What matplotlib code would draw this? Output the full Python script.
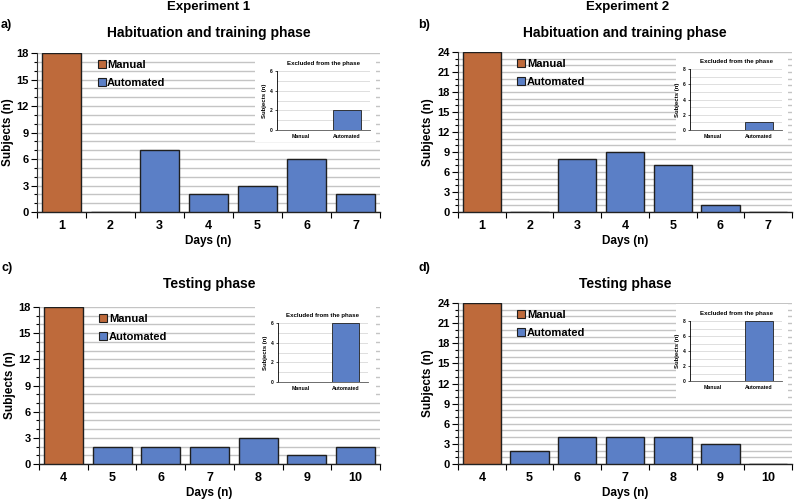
import matplotlib
matplotlib.use("Agg")
import matplotlib.pyplot as plt
from matplotlib.patches import Patch
from matplotlib.ticker import MultipleLocator
import numpy as np

plt.rcParams["font.family"] = ["Liberation Sans", "DejaVu Sans"]
plt.rcParams["font.weight"] = "bold"

W, H = 794, 501

MANUAL = "#BE6A3B"
AUTO = "#5B7FC6"
EDGE = "#1f1f1f"
GRID = "#c4c4c4"

# data
days_hab = ["1", "2", "3", "4", "5", "6", "7"]
days_test = ["4", "5", "6", "7", "8", "9", "10"]
exp1_hab = [18, 0, 7, 2, 3, 6, 2]
exp2_hab = [24, 0, 8, 9, 7, 1, 0]
exp1_test = [18, 2, 2, 2, 3, 1, 2]
exp2_test = [24, 2, 4, 4, 4, 3, 0]
inset_groups = ["Manual", "Automated"]
excl_exp1_hab = [0, 2]
excl_exp2_hab = [0, 1]
excl_exp1_test = [0, 6]
excl_exp2_test = [0, 8]


def px_axes(fig, x0, y0, x1, y1, **kw):
    return fig.add_axes([x0 / W, 1 - y1 / H, (x1 - x0) / W, (y1 - y0) / H], **kw)


def main_panel(fig, box, days, values, ymax, title, letter, letter_xy, title_y):
    ax = px_axes(fig, *box)
    x = np.arange(len(days))
    colors = [MANUAL] + [AUTO] * (len(days) - 1)
    ax.bar(x, values, width=0.8, color=colors, edgecolor=EDGE, linewidth=1.0, zorder=3)
    ax.set_xlim(-0.5, len(days) - 0.5)
    ax.set_ylim(0, ymax)
    ax.yaxis.set_major_locator(MultipleLocator(3))
    ax.yaxis.set_minor_locator(MultipleLocator(1))
    ax.set_xticks(x)
    ax.set_xticklabels(days, fontsize=9, fontweight="bold")
    ax.set_xticks(np.arange(-0.5, len(days)), minor=True)
    ax.tick_params(axis="x", which="major", length=0, pad=6)
    ax.tick_params(axis="x", which="minor", length=4, width=0.8, direction="out")
    ax.tick_params(axis="y", which="major", length=4, width=0.8, labelsize=8, pad=2)
    ax.tick_params(axis="y", which="minor", length=2.5, width=0.8)
    for lab in ax.get_yticklabels():
        lab.set_fontweight("bold")
    ax.grid(axis="y", which="both", color=GRID, linewidth=1.0, zorder=0)
    ax.set_axisbelow(True)
    for s in ("top", "right"):
        ax.spines[s].set_visible(False)
    ax.spines["left"].set_color("#333333")
    ax.spines["bottom"].set_color("#222222")
    ax.spines["bottom"].set_linewidth(1.0)
    ax.set_xlabel("Days (n)", fontsize=8.5, fontweight="bold", labelpad=2)
    ax.set_ylabel("Subjects (n)", fontsize=8.5, fontweight="bold", labelpad=2)
    handles = [Patch(facecolor=MANUAL, edgecolor=EDGE, linewidth=0.8),
               Patch(facecolor=AUTO, edgecolor=EDGE, linewidth=0.8)]
    ax.legend(handles, ["Manual", "Automated"], loc="upper left",
              bbox_to_anchor=(0.148, 1.02), frameon=False,
              prop={"size": 8, "weight": "bold"},
              handlelength=0.7, handleheight=0.7, handletextpad=0.15,
              labelspacing=0.75)
    fig.text(((box[0] + box[2]) / 2) / W, 1 - title_y / H, title,
             ha="center", va="center", fontsize=10, fontweight="bold")
    fig.text(letter_xy[0] / W, 1 - letter_xy[1] / H, letter,
             ha="left", va="center", fontsize=9, fontweight="bold")
    return ax


def inset_panel(fig, box, axbox, values, ymax):
    bg = px_axes(fig, *box)
    bg.set_facecolor("white")
    bg.set_xticks([])
    bg.set_yticks([])
    for s in bg.spines.values():
        s.set_visible(False)
    bg.set_zorder(5)
    ax = px_axes(fig, *axbox)
    ax.set_zorder(6)
    x = np.arange(len(inset_groups))
    ax.bar(x, values, width=0.6, color=AUTO, edgecolor=EDGE, linewidth=0.6, zorder=3)
    ax.set_xlim(-0.5, 1.5)
    ax.set_ylim(0, ymax)
    ax.yaxis.set_major_locator(MultipleLocator(2))
    ax.yaxis.set_minor_locator(MultipleLocator(1))
    ax.set_xticks(x)
    ax.set_xticklabels(inset_groups, fontsize=3.8, fontweight="bold")
    ax.tick_params(axis="x", length=0, pad=3)
    ax.tick_params(axis="y", which="major", length=1.5, width=0.5, labelsize=3.5, pad=1.5)
    ax.tick_params(axis="y", which="minor", length=0)
    for lab in ax.get_yticklabels():
        lab.set_fontweight("bold")
    ax.grid(axis="y", which="both", color="#d9d9d9", linewidth=0.6, zorder=0)
    ax.set_axisbelow(True)
    for s in ("top", "right"):
        ax.spines[s].set_visible(False)
    ax.spines["left"].set_linewidth(0.6)
    ax.spines["bottom"].set_linewidth(0.6)
    ax.spines["bottom"].set_color("#555555")
    ax.set_ylabel("Subjects (n)", fontsize=4.3, fontweight="bold", labelpad=2)
    ax.set_title("Excluded from the phase", fontsize=4.4, fontweight="bold", pad=4)
    return ax


fig = plt.figure(figsize=(W / 100, H / 100), dpi=100)

main_panel(fig, (37, 53, 380, 212), days_hab, exp1_hab, 18,
           "Habituation and training phase", "a)", (1, 25), 33)
main_panel(fig, (458, 52, 792, 212), days_hab, exp2_hab, 24,
           "Habituation and training phase", "b)", (418, 25), 33)
main_panel(fig, (39, 307, 380, 464), days_test, exp1_test, 18,
           "Testing phase", "c)", (1, 268), 284)
main_panel(fig, (458, 303, 792, 464), days_test, exp2_test, 24,
           "Testing phase", "d)", (418, 268), 284)

fig.text(209 / W, 1 - 7 / H, "Experiment 1", ha="center", va="center",
         fontsize=9.5, fontweight="bold")
fig.text(628 / W, 1 - 7 / H, "Experiment 2", ha="center", va="center",
         fontsize=9.5, fontweight="bold")

inset_panel(fig, (255, 55, 376, 142), (277, 71, 370, 130), excl_exp1_hab, 6)
inset_panel(fig, (676, 55, 788, 142), (690, 69, 782, 130), excl_exp2_hab, 8)
inset_panel(fig, (255, 306, 376, 400), (278, 323, 368, 382), excl_exp1_test, 6)
inset_panel(fig, (676, 304, 788, 400), (690, 321, 782, 381), excl_exp2_test, 8)

fig.savefig("out.png", dpi=100)
